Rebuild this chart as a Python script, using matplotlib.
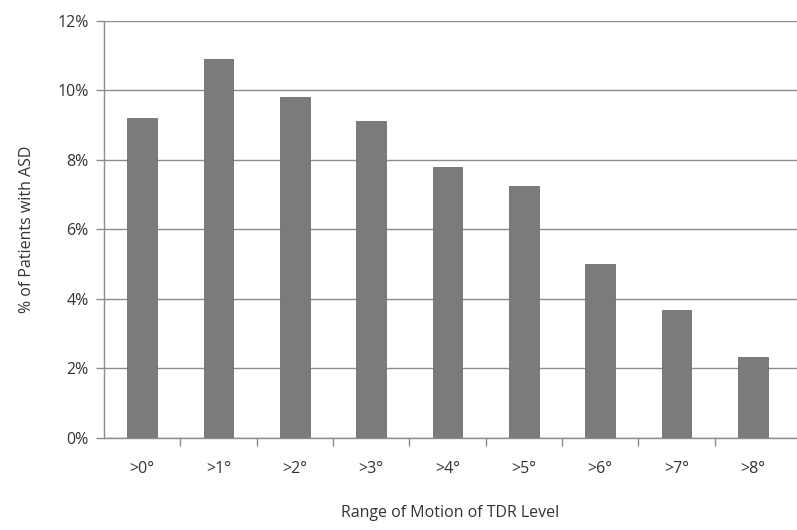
import matplotlib.pyplot as plt
from matplotlib.ticker import FuncFormatter, FixedLocator

categories = [">0°", ">1°", ">2°", ">3°", ">4°", ">5°", ">6°", ">7°", ">8°"]
values = [9.2, 10.9, 9.8, 9.1, 7.8, 7.25, 5.0, 3.68, 2.31]

plt.rcParams['font.family'] = ['Open Sans', 'DejaVu Sans']

fig = plt.figure(figsize=(7.97, 5.30), dpi=100)
ax = fig.add_axes([0.1305, 0.1745, 0.8695, 0.7865])

x = list(range(len(categories)))
ax.bar(x, values, width=0.39, color='#7b7b7b', edgecolor='#6e6e6e', linewidth=0.6, zorder=3)

ax.set_xlim(-0.5, len(categories) - 0.42)
ax.set_ylim(0, 12)
ax.set_yticks(range(0, 13, 2))
ax.yaxis.set_major_formatter(FuncFormatter(lambda v, p: f"{int(v)}%"))
ax.grid(axis='y', color='#8c8c8c', linewidth=1.0, zorder=0)

ax.set_xticks(x)
ax.set_xticklabels(categories, fontsize=11.5, color='#333333')
ax.xaxis.set_minor_locator(FixedLocator([i + 0.5 for i in range(len(categories) - 1)]))
ax.tick_params(axis='x', which='major', length=0, pad=17)
ax.tick_params(axis='x', which='minor', length=6, width=1, color='#8c8c8c', direction='out')
ax.tick_params(axis='y', length=6, width=1, color='#8c8c8c', labelsize=11.5, labelcolor='#333333', pad=5)

for side in ['top', 'right']:
    ax.spines[side].set_visible(False)
for side in ['left', 'bottom']:
    ax.spines[side].set_color('#8c8c8c')
    ax.spines[side].set_linewidth(1.0)

ax.set_ylabel("% of Patients with ASD", fontsize=11.5, color='#333333', labelpad=16)
ax.set_xlabel("Range of Motion of TDR Level", fontsize=11.5, color='#333333', labelpad=20)

fig.savefig("out.png", dpi=100)
